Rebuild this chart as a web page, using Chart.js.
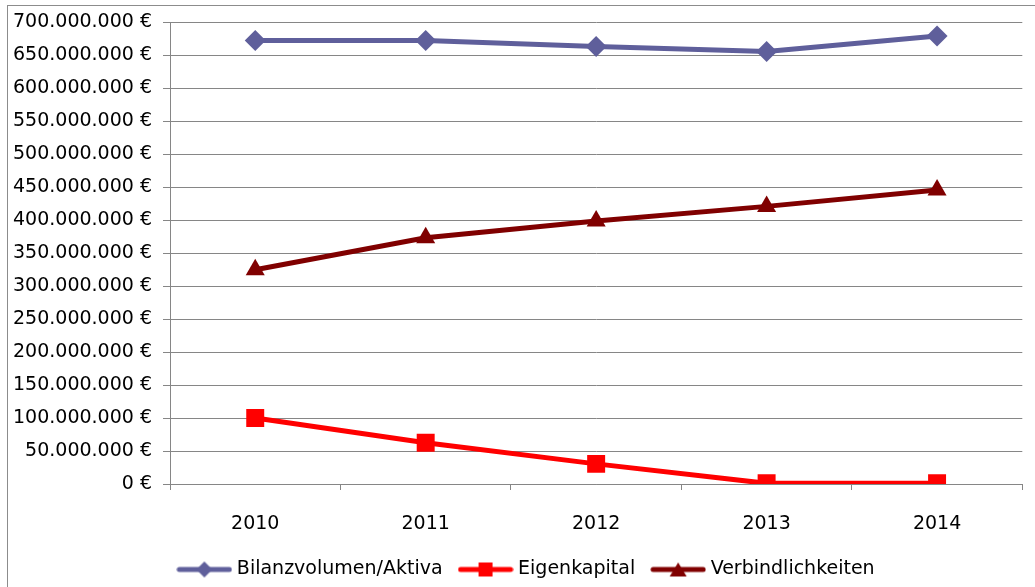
<!DOCTYPE html>
<html>
<head>
<meta charset="utf-8">
<script src="https://cdn.jsdelivr.net/npm/chart.js@4.4.1/dist/chart.umd.min.js"></script>
<style>
    html, body { margin: 0; padding: 0; background: #fff; }
    #wrap { position: relative; width: 1035px; height: 587px; overflow: hidden; }
    #frame { position: absolute; left: 7px; top: 5px; width: 1040px; height: 600px;
             border: 1px solid #8c8c8c; pointer-events: none; }
</style>
</head>
<body>
<div id="wrap">
    <canvas id="bilanzChart" width="1035" height="587"></canvas>
    <div id="frame"></div>
</div>
<script>
// Werte (in Euro)
const years = ['2010', '2011', '2012', '2013', '2014'];
const bilanzvolumen = [672500000, 672500000, 663500000, 656000000, 679500000];
const eigenkapital = [100000000, 62500000, 30500000, 1000000, 1000000];
const verbindlichkeiten = [325000000, 373500000, 399000000, 421000000, 446000000];

const seriesNames = ['Bilanzvolumen/Aktiva', 'Eigenkapital', 'Verbindlichkeiten'];
const seriesColors = ['#5f5f9b', '#ff0000', '#800000'];
const seriesMarkers = ['rectRot', 'rect', 'triangle'];

const FONT = { family: 'DejaVu Sans', size: 19 };

// format 700000000 -> "700.000.000 €"
function euro(value) {
    return String(Math.round(value)).replace(/\B(?=(\d{3})+(?!\d))/g, '.') + ' €';
}

// small line + marker icon for the legend
function legendIcon(color, marker) {
    const c = document.createElement('canvas');
    c.width = 56;
    c.height = 20;
    const g = c.getContext('2d');
    g.strokeStyle = color;
    g.fillStyle = color;
    g.lineWidth = 5;
    g.lineCap = 'round';
    g.beginPath();
    g.moveTo(3, 10);
    g.lineTo(53, 10);
    g.stroke();
    g.beginPath();
    if (marker === 'rectRot') {
        g.moveTo(28, 2); g.lineTo(36, 10); g.lineTo(28, 18); g.lineTo(20, 10);
    } else if (marker === 'rect') {
        g.rect(21, 3, 14, 14);
    } else {
        g.moveTo(28, 3); g.lineTo(36.5, 17); g.lineTo(19.5, 17);
    }
    g.closePath();
    g.fill();
    return c;
}

const icons = seriesColors.map((col, i) => legendIcon(col, seriesMarkers[i]));

// Excel centres the legend a bit right of the canvas middle
const legendShift = {
    id: 'legendShift',
    afterLayout(chart) {
        if (chart.legend) chart.legend.left += 28;
    }
};

const ctx = document.getElementById('bilanzChart').getContext('2d');
const chart = new Chart(ctx, {
    type: 'line',
    data: {
        labels: years,
        datasets: [bilanzvolumen, eigenkapital, verbindlichkeiten].map((values, i) => ({
            label: seriesNames[i],
            data: values,
            borderColor: seriesColors[i],
            backgroundColor: seriesColors[i],
            borderWidth: 5,
            pointStyle: seriesMarkers[i],
            pointRadius: [10.5, 12.7, 11][i],
            pointBorderWidth: 0,
            pointBackgroundColor: seriesColors[i],
            tension: 0,
            fill: false
        }))
    },
    options: {
        responsive: false,
        animation: false,
        layout: { padding: { left: 0, right: 7, top: 22, bottom: -2 } },
        scales: {
            x: {
                offset: true,
                grid: {
                    offset: true,
                    drawOnChartArea: false,
                    drawTicks: true,
                    tickLength: 6,
                    color: '#868686'
                },
                border: { display: true, color: '#868686', width: 1 },
                ticks: { color: '#000', font: FONT, padding: 23, maxRotation: 0 },
                afterFit: scale => { scale.height = 56; }
            },
            y: {
                min: 0,
                max: 700000000,
                grid: { color: '#868686', lineWidth: 1, tickLength: 7 },
                border: { display: true, color: '#868686', width: 1 },
                ticks: {
                    stepSize: 50000000,
                    color: '#000',
                    font: FONT,
                    padding: 11,
                    callback: value => euro(value)
                },
                afterFit: scale => { scale.width = 170; }
            }
        },
        plugins: {
            title: { display: false },
            tooltip: { enabled: false },
            legend: {
                display: true,
                position: 'bottom',
                labels: {
                    color: '#000',
                    font: FONT,
                    usePointStyle: true,
                    pointStyleWidth: 46,
                    padding: 20,
                    generateLabels: chart => chart.data.datasets.map((ds, i) => ({
                        text: ds.label,
                        pointStyle: icons[i],
                        fillStyle: ds.borderColor,
                        strokeStyle: ds.borderColor,
                        lineWidth: 0,
                        datasetIndex: i
                    }))
                }
            }
        }
    },
    plugins: [legendShift]
});
</script>
</body>
</html>
